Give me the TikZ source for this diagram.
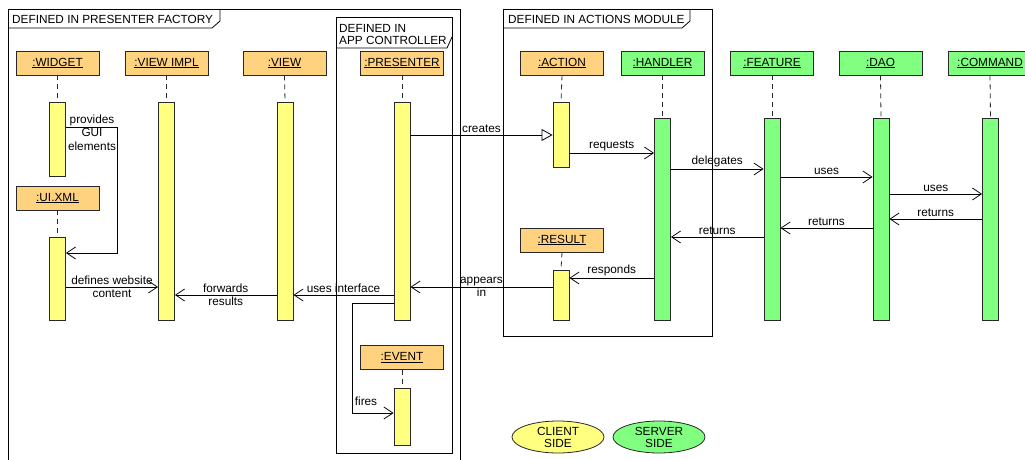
\documentclass[tikz,border=0pt]{standalone}
\usepackage{fontspec}
\setmainfont{Liberation Sans}
\usetikzlibrary{arrows.meta,shapes.geometric}
\definecolor{headorange}{RGB}{255,210,128}
\definecolor{baryellow}{RGB}{255,255,128}
\definecolor{bargreen}{RGB}{128,255,128}
\definecolor{edge}{RGB}{40,40,40}
\tikzset{
  every node/.style={font=\fontsize{11.8}{13.5}\selectfont},
  head/.style={draw=edge, line width=0.8pt, minimum width=83pt, minimum height=24pt, inner sep=0pt},
  clienthead/.style={head, fill=headorange},
  serverhead/.style={head, fill=bargreen},
  actbar/.style={draw=edge, line width=0.8pt, minimum width=16pt, inner sep=0pt, anchor=north},
  clientbar/.style={actbar, fill=baryellow},
  serverbar/.style={actbar, fill=bargreen},
  lifeline/.style={draw=edge, line width=0.8pt, dash pattern=on 5pt off 4pt},
  frameline/.style={draw=black, line width=0.8pt},
  msg/.style={draw=black, line width=0.8pt, -{Straight Barb[length=9pt,width=12pt,line width=0.8pt]}},
  createmsg/.style={draw=black, line width=0.8pt, -{Triangle[open,length=11pt,width=12pt,line width=0.8pt,fill=white]}},
  lbl/.style={inner sep=1.5pt, align=center},
  tabtext/.style={anchor=west, inner sep=0pt, align=left},
  legend/.style={ellipse, draw=edge, line width=0.8pt, minimum width=92pt, minimum height=32pt, inner sep=0pt, align=center}
}
\begin{document}
\begin{tikzpicture}[x=1pt,y=-1pt]
\useasboundingbox (0,0) rectangle (1025,460);
\clip (0,0) rectangle (1025,460);
\fill[white] (0,0) rectangle (1025,460);

% ---------- frames ----------
\draw[frameline] (8,470) -- (8,9) -- (460,9) -- (460,470);
\draw[frameline] (8,28) -- (212,28) -- (220,21) -- (220,9);
\node[tabtext] (tabpf) at (12,19) {DEFINED IN PRESENTER FACTORY};

\draw[frameline] (336,17) rectangle (452,453);
\draw[frameline] (336,48) -- (447,48) -- (452,37);
\node[tabtext] (tabac) at (339,34.5) {DEFINED IN\\[-1.5pt]APP CONTROLLER};

\draw[frameline] (503,9) rectangle (712,336);
\draw[frameline] (503,28) -- (682,28) -- (690,21) -- (690,9);
\node[tabtext] (tabam) at (508,19) {DEFINED IN ACTIONS MODULE};

% ---------- lifeline heads ----------
\node[clienthead] (widget)   at (57.5,63)  {\underline{:WIDGET}};
\node[clienthead] (viewimpl) at (166.5,63) {\underline{:VIEW IMPL}};
\node[clienthead] (view)     at (284.5,63) {\underline{:VIEW}};
\node[clienthead] (presenter)at (402,63)   {\underline{:PRESENTER}};
\node[clienthead] (action)   at (562,63)   {\underline{:ACTION}};
\node[serverhead] (handler)  at (662.5,63) {\underline{:HANDLER}};
\node[serverhead] (feature)  at (772,63)   {\underline{:FEATURE}};
\node[serverhead] (dao)      at (880.5,63) {\underline{:DAO}};
\node[serverhead] (command)  at (990,63)   {\underline{:COMMAND}};
\node[clienthead] (uixml)    at (57.5,198) {\underline{:UI.XML}};
\node[clienthead] (result)   at (562,240)  {\underline{:RESULT}};
\node[clienthead] (event)    at (402,357.5){\underline{:EVENT}};

% ---------- activation bars ----------
\node[clientbar, minimum height=74pt]  (wb) at (57.5,102) {};
\node[clientbar, minimum height=83pt]  (ub) at (57.5,237) {};
\node[clientbar, minimum height=218pt] (vib) at (166.5,102) {};
\node[clientbar, minimum height=218pt] (vb) at (285,102) {};
\node[clientbar, minimum height=218pt] (pb) at (402,102) {};
\node[clientbar, minimum height=65pt]  (ab) at (561,102) {};
\node[clientbar, minimum height=50pt]  (rb) at (561,270) {};
\node[clientbar, minimum height=57pt]  (eb) at (402,388) {};
\node[serverbar, minimum height=202pt] (hb) at (662.5,118) {};
\node[serverbar, minimum height=202pt] (fb) at (772,118) {};
\node[serverbar, minimum height=202pt] (db) at (881,118) {};
\node[serverbar, minimum height=202pt] (cb) at (990.5,118) {};

% ---------- lifelines ----------
\foreach \h/\b in {widget/wb, uixml/ub, viewimpl/vib, view/vb, presenter/pb,
                   action/ab, result/rb, event/eb, handler/hb, feature/fb,
                   dao/db, command/cb}
  \draw[lifeline] (\h.south) -- (\b.north);

% ---------- messages ----------
\draw[msg] (wb.east |- 0,127) -- (117,127) -- (117,253) -- (ub.east |- 0,253);
\node[lbl] (lprov) at (92,132.5) {provides\\GUI\\elements};

\draw[msg] (ub.east |- 0,287) -- node[lbl] (ldef) {defines website\\content} (vib.west |- 0,287);
\draw[msg] (vb.west |- 0,295) -- node[lbl] (lfwd) {forwards\\results} (vib.east |- 0,295);
\draw[msg] (pb.west |- 0,295) -- node[lbl, above] (luse) {uses interface} (vb.east |- 0,295);
\draw[msg] (rb.west |- 0,287) -- node[lbl] (lapp) {appears\\in} (pb.east |- 0,287);
\draw[msg] (hb.west |- 0,278) -- node[lbl, above] (lresp) {responds} (rb.east |- 0,278);

\draw[createmsg] (pb.east |- 0,135) -- node[lbl, above] (lcre) {creates} (ab.west |- 0,135);
\draw[msg] (ab.east |- 0,153) -- node[lbl, above] (lreq) {requests} (hb.west |- 0,153);
\draw[msg] (hb.east |- 0,169) -- node[lbl, above] (ldel) {delegates} (fb.west |- 0,169);
\draw[msg] (fb.east |- 0,177) -- node[lbl, above] (luse1) {uses} (db.west |- 0,177);
\draw[msg] (db.east |- 0,194) -- node[lbl, above] (luse2) {uses} (cb.west |- 0,194);
\draw[msg] (cb.west |- 0,219) -- node[lbl, above] (lret1) {returns} (db.east |- 0,219);
\draw[msg] (db.west |- 0,228) -- node[lbl, above] (lret2) {returns} (fb.east |- 0,228);
\draw[msg] (fb.west |- 0,237) -- node[lbl, above] (lret3) {returns} (hb.east |- 0,237);

\draw[msg] (pb.west |- 0,303) -- (352,303) -- (352,413) -- (eb.west |- 0,413);
\node[lbl] (lfire) at (366,401) {fires};

% ---------- legend ----------
\node[legend, fill=baryellow] (client) at (558,437) {CLIENT\\[-1.5pt]SIDE};
\node[legend, fill=bargreen]  (server) at (659,437) {SERVER\\[-1.5pt]SIDE};
\end{tikzpicture}
\end{document}
